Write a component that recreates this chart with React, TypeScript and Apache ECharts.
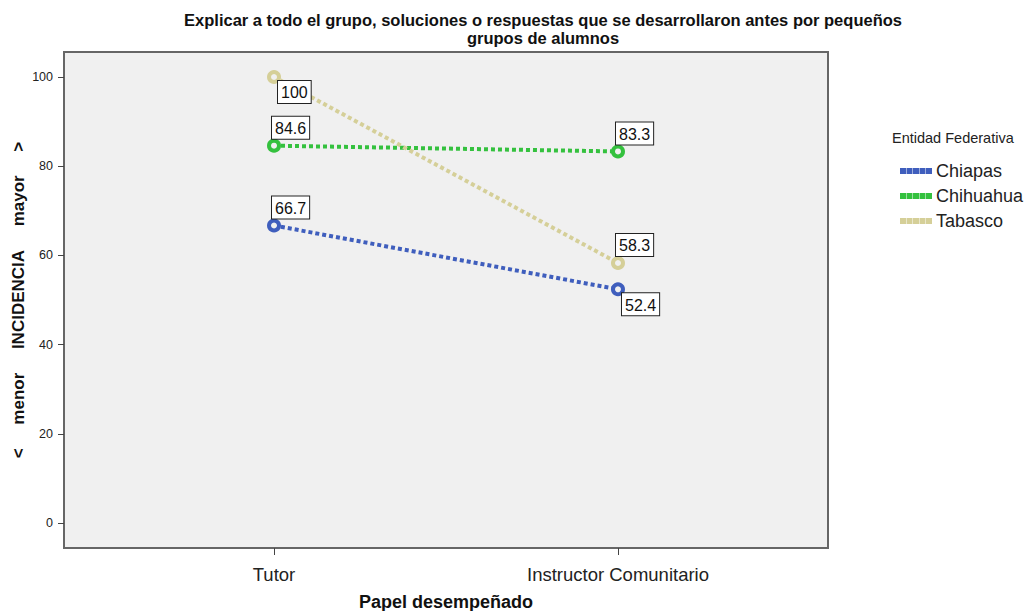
import React, { useEffect, useRef } from "react";
import * as echarts from "echarts";

const categories = ["Tutor", "Instructor Comunitario"];
const seriesNames = ["Chiapas", "Chihuahua", "Tabasco"];
const chiapas = [66.7, 52.4];
const chihuahua = [84.6, 83.3];
const tabasco = [100, 58.3];
const yTicks = [0, 20, 40, 60, 80, 100];
const titleText =
  "Explicar a todo el grupo, soluciones o respuestas que se desarrollaron antes por pequeños\ngrupos de alumnos";
const yAxisTitle = ["<", "menor", "INCIDENCIA", "mayor", ">"];
const colors = ["#3f5ebd", "#34c13e", "#d5cf98"];
// label placement per point: "up" = above-right, "down" = below-right
const labelPlace = [
  ["up", "down"],
  ["up", "up"],
  ["down", "up"],
];

const FONT = "'Liberation Sans', Arial, sans-serif";
const GAP = "\u00a0\u00a0\u00a0\u00a0\u00a0";

export default function App() {
  const ref = useRef<HTMLDivElement>(null);
  useEffect(() => {
    const chart = echarts.init(ref.current!, null, { renderer: "svg" });
    const allData = [chiapas, chihuahua, tabasco];
    const series = seriesNames.map((name, i) => ({
      name,
      type: "line",
      data: allData[i].map((v, j) => ({
        value: [j, v],
        label: {
          show: true,
          position: labelPlace[i][j] === "up" ? [5, 0] : [11, 11],
          verticalAlign: labelPlace[i][j] === "up" ? "bottom" : "top",
          align: "left",
        },
      })),
      symbol: "circle",
      symbolSize: 10,
      lineStyle: { color: colors[i], width: 4, type: [4, 3] },
      itemStyle: { color: "#f0f0f0", borderColor: colors[i], borderWidth: 4 },
      label: {
        show: true,
        formatter: (p: any) => String(p.value[1]),
        color: "#111",
        fontFamily: FONT,
        fontSize: 16,
        backgroundColor: "#ffffff",
        borderColor: "#222",
        borderWidth: 1,
        padding: [4, 3, 2, 3],
      },
      z: 3 + i,
    }));

    chart.setOption({
      animation: false,
      textStyle: { fontFamily: FONT },
      graphic: [
        {
          type: "text",
          x: 543,
          y: 11,
          style: {
            text: titleText,
            fontFamily: FONT,
            fontWeight: "bold",
            fontSize: 16.5,
            lineHeight: 18,
            fill: "#111",
            align: "center",
          },
        },
        {
          type: "text",
          x: 892,
          y: 130,
          style: {
            text: "Entidad Federativa",
            fontFamily: FONT,
            fontSize: 14.5,
            fill: "#222",
          },
        },
      ],
      legend: {
        orient: "vertical",
        left: 895,
        top: 156,
        itemWidth: 30,
        itemHeight: 4,
        itemGap: 5,
        icon: "path://M0,0h4v4h-4z M6.5,0h4v4h-4z M13,0h4v4h-4z M19.5,0h4v4h-4z M26,0h4v4h-4z",
        data: seriesNames.map((n, i) => ({ name: n, itemStyle: { color: colors[i] } })),
        textStyle: { fontFamily: FONT, fontSize: 18, color: "#222", lineHeight: 20 },
      },
      grid: {
        left: 64,
        right: 199,
        top: 52,
        bottom: 63,
        containLabel: false,
        outerBoundsMode: "none",
        show: true,
        backgroundColor: "#f0f0f0",
        borderColor: "#666",
        borderWidth: 2,
      },
      xAxis: {
        type: "value",
        min: -0.6105,
        max: 1.6105,
        axisLine: { show: false, onZero: false },
        axisTick: {
          show: true,
          length: 7,
          customValues: [0, 1],
          lineStyle: { color: "#444" },
        },
        axisLabel: {
          customValues: [0, 1],
          formatter: (v: number) => categories[Math.round(v)],
          fontFamily: FONT,
          fontSize: 18.5,
          color: "#222",
          margin: 17,
        },
        name: "Papel desempeñado",
        nameLocation: "middle",
        nameGap: 45,
        nameMoveOverlap: false,
        nameTextStyle: { fontFamily: FONT, fontSize: 18, fontWeight: "bold", color: "#111" },
        splitLine: { show: false },
      },
      yAxis: {
        type: "value",
        min: -5.6,
        max: 105.6,
        axisLine: { show: false, onZero: false },
        axisTick: {
          show: true,
          length: 6,
          customValues: yTicks,
          lineStyle: { color: "#444" },
        },
        axisLabel: {
          customValues: yTicks,
          fontFamily: FONT,
          fontSize: 12.5,
          color: "#222",
          margin: 11,
        },
        splitLine: { show: false },
        name: yAxisTitle.join(GAP),
        nameLocation: "middle",
        nameGap: 37,
        nameMoveOverlap: false,
        nameRotate: 90,
        nameTextStyle: { fontFamily: FONT, fontSize: 17, fontWeight: "bold", color: "#111" },
      },
      series,
    });
    return () => chart.dispose();
  }, []);
  return (
    <div
      ref={ref}
      style={{ position: "absolute", left: 0, top: 0, width: 1027, height: 611 }}
    />
  );
}
